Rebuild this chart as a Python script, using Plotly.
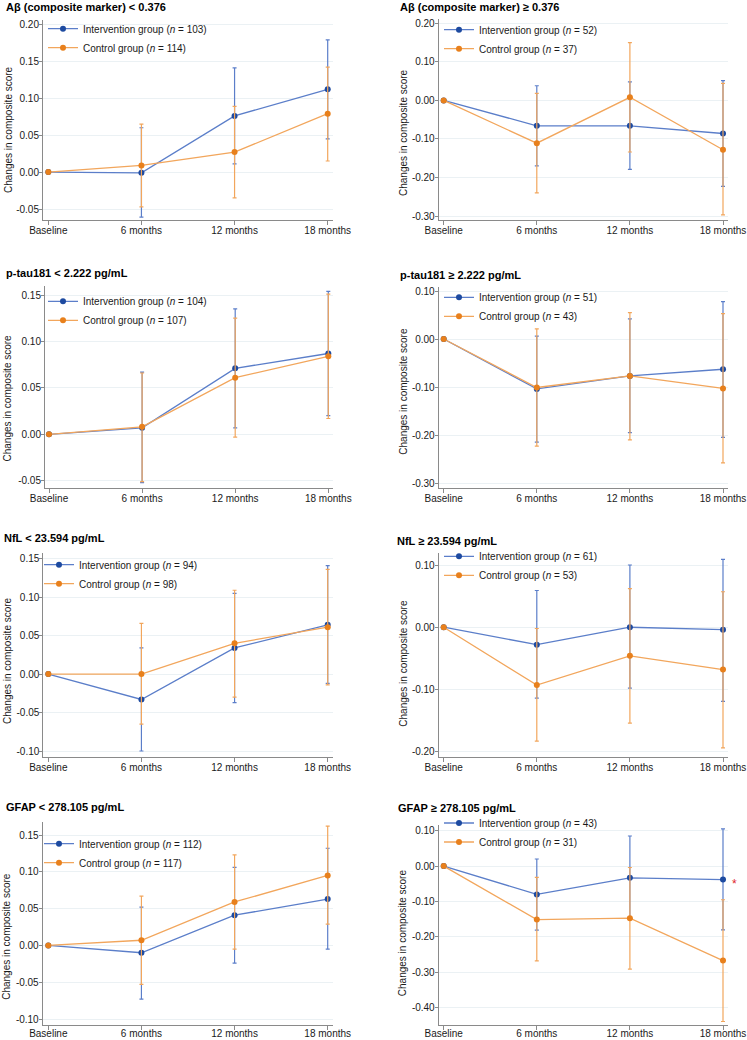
import plotly.graph_objects as go

W, H = 747, 1040

timepoints = ["Baseline", "6 months", "12 months", "18 months"]

panel_titles = [
    "Aβ (composite marker) < 0.376",
    "Aβ (composite marker) ≥ 0.376",
    "p-tau181 < 2.222 pg/mL",
    "p-tau181 ≥ 2.222 pg/mL",
    "NfL < 23.594 pg/mL",
    "NfL ≥ 23.594 pg/mL",
    "GFAP < 278.105 pg/mL",
    "GFAP ≥ 278.105 pg/mL",
]
n_intervention = [103, 52, 104, 51, 94, 61, 112, 43]
n_control = [114, 37, 107, 43, 98, 53, 117, 31]

# ---- values: mean, upper CI, lower CI ----
# Panel 1: Abeta < 0.376
abeta_low_int = [0.0, -0.001, 0.076, 0.112]
abeta_low_int_hi = [0.0, 0.060, 0.141, 0.179]
abeta_low_int_lo = [0.0, -0.061, 0.011, 0.045]
abeta_low_ctl = [0.0, 0.009, 0.027, 0.079]
abeta_low_ctl_hi = [0.0, 0.065, 0.089, 0.142]
abeta_low_ctl_lo = [0.0, -0.047, -0.035, 0.015]
# Panel 2: Abeta >= 0.376
abeta_high_int = [0.0, -0.066, -0.066, -0.086]
abeta_high_int_hi = [0.0, 0.038, 0.048, 0.051]
abeta_high_int_lo = [0.0, -0.170, -0.179, -0.223]
abeta_high_ctl = [0.0, -0.111, 0.008, -0.128]
abeta_high_ctl_hi = [0.0, 0.018, 0.150, 0.044]
abeta_high_ctl_lo = [0.0, -0.240, -0.134, -0.297]
# Panel 3: p-tau181 < 2.222
ptau_low_int = [0.0, 0.007, 0.071, 0.087]
ptau_low_int_hi = [0.0, 0.067, 0.135, 0.154]
ptau_low_int_lo = [0.0, -0.052, 0.007, 0.020]
ptau_low_ctl = [0.0, 0.008, 0.061, 0.084]
ptau_low_ctl_hi = [0.0, 0.066, 0.125, 0.151]
ptau_low_ctl_lo = [0.0, -0.051, -0.003, 0.017]
# Panel 4: p-tau181 >= 2.222
ptau_high_int = [0.0, -0.104, -0.077, -0.063]
ptau_high_int_hi = [0.0, 0.006, 0.042, 0.078]
ptau_high_int_lo = [0.0, -0.215, -0.195, -0.205]
ptau_high_ctl = [0.0, -0.101, -0.077, -0.103]
ptau_high_ctl_hi = [0.0, 0.021, 0.055, 0.053]
ptau_high_ctl_lo = [0.0, -0.223, -0.210, -0.258]
# Panel 5: NfL < 23.594
nfl_low_int = [0.0, -0.033, 0.034, 0.064]
nfl_low_int_hi = [0.0, 0.034, 0.105, 0.141]
nfl_low_int_lo = [0.0, -0.100, -0.037, -0.012]
nfl_low_ctl = [0.0, 0.0, 0.040, 0.061]
nfl_low_ctl_hi = [0.0, 0.066, 0.109, 0.136]
nfl_low_ctl_lo = [0.0, -0.065, -0.030, -0.014]
# Panel 6: NfL >= 23.594
nfl_high_int = [0.0, -0.028, 0.0, -0.004]
nfl_high_int_hi = [0.0, 0.059, 0.100, 0.109]
nfl_high_int_lo = [0.0, -0.114, -0.098, -0.119]
nfl_high_ctl = [0.0, -0.093, -0.046, -0.068]
nfl_high_ctl_hi = [0.0, -0.002, 0.062, 0.057]
nfl_high_ctl_lo = [0.0, -0.183, -0.154, -0.194]
# Panel 7: GFAP < 278.105
gfap_low_int = [0.0, -0.010, 0.041, 0.063]
gfap_low_int_hi = [0.0, 0.052, 0.106, 0.132]
gfap_low_int_lo = [0.0, -0.073, -0.024, -0.005]
gfap_low_ctl = [0.0, 0.007, 0.059, 0.095]
gfap_low_ctl_hi = [0.0, 0.067, 0.123, 0.162]
gfap_low_ctl_lo = [0.0, -0.053, -0.005, 0.029]
# Panel 8: GFAP >= 278.105
gfap_high_int = [0.0, -0.080, -0.033, -0.038]
gfap_high_int_hi = [0.0, 0.020, 0.085, 0.105]
gfap_high_int_lo = [0.0, -0.181, -0.150, -0.180]
gfap_high_ctl = [0.0, -0.151, -0.147, -0.267]
gfap_high_ctl_hi = [0.0, -0.032, -0.004, -0.095]
gfap_high_ctl_lo = [0.0, -0.268, -0.291, -0.439]

panel_data = [
    (abeta_low_int, abeta_low_int_hi, abeta_low_int_lo, abeta_low_ctl, abeta_low_ctl_hi, abeta_low_ctl_lo),
    (abeta_high_int, abeta_high_int_hi, abeta_high_int_lo, abeta_high_ctl, abeta_high_ctl_hi, abeta_high_ctl_lo),
    (ptau_low_int, ptau_low_int_hi, ptau_low_int_lo, ptau_low_ctl, ptau_low_ctl_hi, ptau_low_ctl_lo),
    (ptau_high_int, ptau_high_int_hi, ptau_high_int_lo, ptau_high_ctl, ptau_high_ctl_hi, ptau_high_ctl_lo),
    (nfl_low_int, nfl_low_int_hi, nfl_low_int_lo, nfl_low_ctl, nfl_low_ctl_hi, nfl_low_ctl_lo),
    (nfl_high_int, nfl_high_int_hi, nfl_high_int_lo, nfl_high_ctl, nfl_high_ctl_hi, nfl_high_ctl_lo),
    (gfap_low_int, gfap_low_int_hi, gfap_low_int_lo, gfap_low_ctl, gfap_low_ctl_hi, gfap_low_ctl_lo),
    (gfap_high_int, gfap_high_int_hi, gfap_high_int_lo, gfap_high_ctl, gfap_high_ctl_hi, gfap_high_ctl_lo),
]

# y tick values for each panel
yticks_list = [
    [-0.05, 0.00, 0.05, 0.10, 0.15, 0.20],
    [-0.30, -0.20, -0.10, 0.00, 0.10, 0.20],
    [-0.05, 0.00, 0.05, 0.10, 0.15],
    [-0.30, -0.20, -0.10, 0.00, 0.10],
    [-0.10, -0.05, 0.00, 0.05, 0.10, 0.15],
    [-0.20, -0.10, 0.00, 0.10],
    [-0.10, -0.05, 0.00, 0.05, 0.10, 0.15],
    [-0.40, -0.30, -0.20, -0.10, 0.00, 0.10],
]

# ---- layout geometry (pixels) ----
# plot box: left, right, top, bottom
boxes = [
    (43, 333, 20, 220),
    (438.7, 728, 19.3, 220),
    (45, 333, 286, 488.3),
    (438.7, 728, 287.3, 488.3),
    (43.3, 333, 553.3, 756.7),
    (438.7, 728, 553, 756.7),
    (42.7, 333, 821.7, 1025),
    (438.7, 728, 825, 1025),
]
# pixel x of first and last category
xcal = [
    (48.3, 327.7), (443.7, 723), (49, 328.3), (443.7, 723),
    (48.3, 327.7), (443.7, 723), (48.3, 327.7), (443.7, 723),
]
# (value, pixel y) pairs for top and bottom ticks
ycal = [
    ((0.20, 24.3), (-0.05, 209)),
    ((0.20, 23.3), (-0.30, 216)),
    ((0.15, 295), (-0.05, 480.7)),
    ((0.10, 291), (-0.30, 483)),
    ((0.15, 558.7), (-0.10, 751)),
    ((0.10, 565), (-0.20, 751.7)),
    ((0.15, 835), (-0.10, 1019)),
    ((0.10, 830.7), (-0.40, 1007.7)),
]
xlabel_shift = [-3, -3, -3, -3, -3, -3, -5, -5]
title_pos = [(4, 7), (398, 7), (4, 273), (398, 275), (2, 538), (395, 541), (4, 807), (396, 808)]
ytitle_pos = [(8, 130), (403.5, 132.5), (6.5, 398), (402.7, 391), (7, 661), (402.7, 663), (5.8, 936), (402.7, 932.5)]
legend_pos = [(43, 30.7), (439, 31.7), (43, 303.3), (439, 299.3), (39, 566.7), (439, 558.3), (39, 845.7), (439, 825)]

INT_MARK = "#1d4aa0"
INT_LINE = "#5b7ec9"
CTL_MARK = "#e8801c"
CTL_LINE = "#f2a65c"
AXIS_COL = "#8a8a8a"
GRID_COL = "#ebf1f4"
FONT = "Liberation Sans"

fig = go.Figure()
layout = dict(
    template="none",
    width=W, height=H,
    margin=dict(l=0, r=0, t=0, b=0, pad=0),
    paper_bgcolor="white", plot_bgcolor="white",
    font=dict(family=FONT, size=10, color="#1a1a1a"),
    annotations=[],
)


def px_x(p):
    return p / W


def px_y(p):
    return 1 - p / H


for i in range(8):
    k = "" if i == 0 else str(i + 1)
    xa, ya = "x" + k, "y" + k
    leg = "legend" + k
    m_i, hi_i, lo_i, m_c, hi_c, lo_c = panel_data[i]
    err_i_up = [None] + [hi_i[j] - m_i[j] for j in range(1, 4)]
    err_i_dn = [None] + [m_i[j] - lo_i[j] for j in range(1, 4)]
    err_c_up = [None] + [hi_c[j] - m_c[j] for j in range(1, 4)]
    err_c_dn = [None] + [m_c[j] - lo_c[j] for j in range(1, 4)]

    fig.add_trace(go.Scatter(
        x=timepoints, y=m_i, mode="lines+markers", xaxis=xa, yaxis=ya, legend=leg,
        name=f"Intervention group (<i>n</i> = {n_intervention[i]})",
        line=dict(color=INT_LINE, width=1.3),
        marker=dict(color=INT_MARK, size=6, line=dict(width=0)),
        error_y=dict(type="data", array=err_i_up, arrayminus=err_i_dn, symmetric=False,
                     color=INT_LINE, thickness=1.2, width=2),
    ))
    fig.add_trace(go.Scatter(
        x=timepoints, y=m_c, mode="lines+markers", xaxis=xa, yaxis=ya, legend=leg,
        name=f"Control group (<i>n</i> = {n_control[i]})",
        line=dict(color=CTL_LINE, width=1.3),
        marker=dict(color=CTL_MARK, size=6, line=dict(width=0)),
        error_y=dict(type="data", array=err_c_up, arrayminus=err_c_dn, symmetric=False,
                     color=CTL_LINE, thickness=1.2, width=2),
    ))

    x0, x1, y0, y1 = boxes[i]
    b, e = xcal[i]
    s = (e - b) / 3
    xr = [(x0 - b) / s, 3 + (x1 - e) / s]
    (v_t, p_t), (v_b, p_b) = ycal[i]
    per = (p_b - p_t) / (v_t - v_b)
    yr = [v_t - (y1 - p_t) / per, v_t + (p_t - y0) / per]

    layout["xaxis" + k] = dict(
        domain=[px_x(x0), px_x(x1)], anchor=ya, type="category", range=xr,
        automargin=False,
        showline=True, linecolor=AXIS_COL, linewidth=1,
        ticks="outside", ticklen=4, tickcolor=AXIS_COL, tickwidth=1,
        ticklabelstandoff=xlabel_shift[i],
        showgrid=False, zeroline=False, tickfont=dict(family=FONT, size=10, color="#1a1a1a"),
    )
    layout["yaxis" + k] = dict(
        domain=[px_y(y1), px_y(y0)], anchor=xa, range=yr,
        automargin=False,
        tickvals=yticks_list[i], ticktext=[f"{v:.2f}" for v in yticks_list[i]],
        showline=True, linecolor=AXIS_COL, linewidth=1,
        ticks="outside", ticklen=3, tickcolor=AXIS_COL, tickwidth=1,
        ticklabelstandoff=-2,
        showgrid=True, gridcolor=GRID_COL, gridwidth=1, zeroline=False,
        tickfont=dict(family=FONT, size=10, color="#1a1a1a"),
    )
    lx, ly = legend_pos[i]
    layout[leg] = dict(
        x=px_x(lx), y=px_y(ly - 16.5), xanchor="left", yanchor="top",
        bgcolor="rgba(0,0,0,0)", borderwidth=0,
        font=dict(family=FONT, size=10, color="#1a1a1a"),
        itemclick=False, itemdoubleclick=False,
    )
    tx, ty = title_pos[i]
    layout["annotations"].append(dict(
        x=px_x(tx), y=px_y(ty), xref="paper", yref="paper", xanchor="left", yanchor="middle",
        text=f"<b>{panel_titles[i]}</b>", showarrow=False,
        font=dict(family=FONT, size=11, color="black"),
    ))
    yx, yy = ytitle_pos[i]
    layout["annotations"].append(dict(
        x=px_x(yx), y=px_y(yy), xref="paper", yref="paper", xanchor="center", yanchor="middle",
        text="Changes in composite score", textangle=-90, showarrow=False,
        font=dict(family=FONT, size=10, color="#1a1a1a"),
    ))

# significance marker next to the last point in the final panel
layout["annotations"].append(dict(
    x=px_x(734.7), y=px_y(884), xref="paper", yref="paper", xanchor="center", yanchor="middle",
    text="*", showarrow=False, font=dict(family=FONT, size=12, color="#e0252a"),
))

fig.update_layout(**layout)
fig.write_html(
    "out.html",
    config={"displayModeBar": False},
    post_script="document.body.style.margin='0px';document.body.style.padding='0px';",
)
